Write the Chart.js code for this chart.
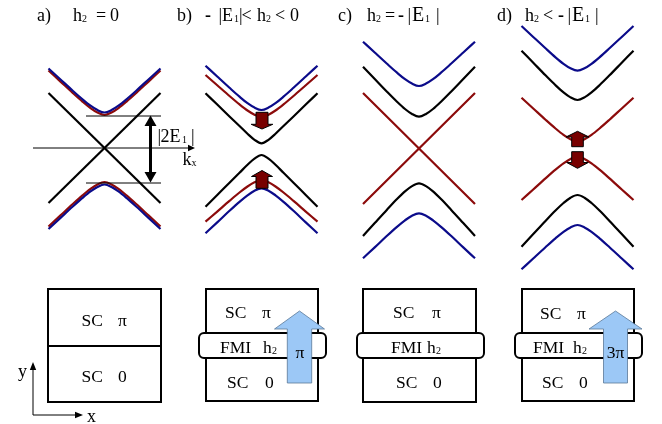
<!DOCTYPE html>
<html><head><meta charset="utf-8">
<script src="https://cdn.jsdelivr.net/npm/chart.js@4"></script>
<style>html,body{margin:0;padding:0;background:#fff;} canvas{display:block;}</style>
</head><body>
<canvas id="c" width="662" height="424"></canvas>
<script>
// ---------- data (energies, E = 0 at the kx axis) ----------
const kx = [-56,-44,-32,-22,-14,-7,0,7,14,22,32,44,56];
const kxEnds = [-56, 56];

// a) h2 = 0
const aBlueUp = [79.5,68.5,57.5,48.7,42.3,37.9,35.5,37.9,42.3,48.7,57.5,68.5,79.5];
const aRedUp  = [77.5,66.4,55.3,46.4,39.9,35.4,33.0,35.4,39.9,46.4,55.3,66.4,77.5];
const aRedDn  = [-78.5,-67.4,-56.3,-47.4,-40.9,-36.4,-34.0,-36.4,-40.9,-47.4,-56.3,-67.4,-78.5];
const aBlueDn = [-81.0,-69.9,-58.8,-49.9,-43.4,-38.9,-36.5,-38.9,-43.4,-49.9,-58.8,-69.9,-81.0];
const aBlackX1 = [55, -55];
const aBlackX2 = [-55, 55];
const aGapLevels = [32, -35];

// b) -|E1| < h2 < 0
const bBlueUp  = [82.3,71.2,60.2,51.3,44.8,40.4,38.0,40.4,44.8,51.3,60.2,71.2,82.3];
const bRedUp   = [73.0,62.5,52.0,43.6,37.5,33.3,31.0,33.3,37.5,43.6,52.0,62.5,73.0];
const bBlackUp = [54.7,43.2,31.5,22.0,14.2,8.2,4.7,8.2,14.2,22.0,31.5,43.2,54.7];
const bBlackDn = [-58.7,-46.8,-34.7,-24.8,-16.8,-10.6,-7.0,-10.6,-16.8,-24.8,-34.7,-46.8,-58.7];
const bRedDn   = [-73.7,-63.3,-52.9,-44.5,-38.5,-34.3,-32.0,-34.3,-38.5,-44.5,-52.9,-63.3,-73.7];
const bBlueDn  = [-85.3,-74.1,-62.8,-53.8,-47.3,-42.7,-40.3,-42.7,-47.3,-53.8,-62.8,-74.1,-85.3];

// c) h2 = -|E1|
const cBlueUp  = [106.3,95.2,84.2,75.3,68.8,64.4,62.0,64.4,68.8,75.3,84.2,95.2,106.3];
const cBlackUp = [81.3,68.8,56.3,46.3,39.0,34.0,31.3,34.0,39.0,46.3,56.3,68.8,81.3];
const cRedX1 = [55, -56];
const cRedX2 = [-56, 55];
const cBlackDn = [-88.0,-74.8,-61.7,-51.1,-43.4,-38.1,-35.3,-38.1,-43.4,-51.1,-61.7,-74.8,-88.0];
const cBlueDn  = [-110.3,-99.1,-87.8,-78.8,-72.3,-67.7,-65.3,-67.7,-72.3,-78.8,-87.8,-99.1,-110.3];

// d) h2 < -|E1|
const dBlueUp  = [122.0,110.8,99.7,90.7,84.2,79.7,77.3,79.7,84.2,90.7,99.7,110.8,122.0];
const dBlackUp = [97.3,85.0,72.7,62.8,55.6,50.6,48.0,50.6,55.6,62.8,72.7,85.0,97.3];
const dRedUp   = [50.3,39.3,28.3,19.5,13.1,8.7,6.3,8.7,13.1,19.5,28.3,39.3,50.3];
const dRedDn   = [-52.0,-41.2,-30.4,-21.7,-15.4,-11.0,-8.7,-11.0,-15.4,-21.7,-30.4,-41.2,-52.0];
const dBlackDn = [-98.7,-85.8,-72.9,-62.5,-55.0,-49.7,-47.0,-49.7,-55.0,-62.5,-72.9,-85.8,-98.7];
const dBlueDn  = [-121.3,-110.2,-99.2,-90.3,-83.8,-79.4,-77.0,-79.4,-83.8,-90.3,-99.2,-110.2,-121.3];

// phase labels in the junction arrows
const phaseLabels = ['π', '3π'];

// ---------- layout / style ----------
const TOP = 148;                       // layout y of E = 0
const centers = {a:104.5, b:261.5, c:419, d:577.5};
const BLUE = '#0b0b8a', RED = '#8c0b0b', BLACK = '#000';
const FONT = '"Liberation Serif","Times New Roman",serif';

const datasets = [];
function curve(cx, vals, color, ks) {
  ks = ks || kx;
  datasets.push({
    data: ks.map((k, i) => ({x: cx + k, y: vals[i]})),
    showLine: true, borderColor: color, borderWidth: 2.2, pointRadius: 0,
    cubicInterpolationMode: 'monotone', fill: false
  });
}
// a
curve(centers.a, aBlackX1, BLACK, kxEnds);
curve(centers.a, aBlackX2, BLACK, kxEnds);
curve(centers.a, aBlueUp, BLUE); curve(centers.a, aRedUp, RED);
curve(centers.a, aBlueDn, BLUE); curve(centers.a, aRedDn, RED);
// b
curve(centers.b, bBlueUp, BLUE); curve(centers.b, bRedUp, RED); curve(centers.b, bBlackUp, BLACK);
curve(centers.b, bBlackDn, BLACK); curve(centers.b, bRedDn, RED); curve(centers.b, bBlueDn, BLUE);
// c
curve(centers.c, cBlueUp, BLUE); curve(centers.c, cBlackUp, BLACK);
curve(centers.c, cRedX1, RED, kxEnds); curve(centers.c, cRedX2, RED, kxEnds);
curve(centers.c, cBlackDn, BLACK); curve(centers.c, cBlueDn, BLUE);
// d
curve(centers.d, dBlueUp, BLUE); curve(centers.d, dBlackUp, BLACK); curve(centers.d, dRedUp, RED);
curve(centers.d, dRedDn, RED); curve(centers.d, dBlackDn, BLACK); curve(centers.d, dBlueDn, BLUE);

const decor = {
  id: 'decor',
  afterDatasetsDraw(chart) {
    const ctx = chart.ctx, xs = chart.scales.x, ys = chart.scales.y;
    const X = v => xs.getPixelForValue(v);
    const Y = v => ys.getPixelForValue(TOP - v);
    ctx.save();
    ctx.lineJoin = 'miter';

    function txt(s, x, y, size, opt) {
      opt = opt || {};
      ctx.font = (opt.bold ? 'bold ' : '') + size + 'px ' + FONT;
      ctx.fillStyle = opt.color || '#000';
      ctx.textAlign = opt.align || 'left';
      ctx.textBaseline = 'alphabetic';
      ctx.fillText(s, X(x), Y(y));
    }
    function pieces(list, base, size) {
      list.forEach(p => {
        if (p[2] === 's') txt(p[0], p[1], base + 1, Math.round(size * 0.56));
        else if (p[2] === 'b') txt(p[0], p[1], base - 0.5, size, {bold: true});
        else if (typeof p[2] === 'number') txt(p[0], p[1], base, p[2]);
        else txt(p[0], p[1], base, size);
      });
    }
    function line(x1, y1, x2, y2, w) {
      ctx.beginPath(); ctx.moveTo(X(x1), Y(y1)); ctx.lineTo(X(x2), Y(y2));
      ctx.lineWidth = w; ctx.strokeStyle = '#000'; ctx.stroke();
    }
    function tri(x1, y1, x2, y2, x3, y3) {
      ctx.beginPath(); ctx.moveTo(X(x1), Y(y1)); ctx.lineTo(X(x2), Y(y2)); ctx.lineTo(X(x3), Y(y3));
      ctx.closePath(); ctx.fillStyle = '#000'; ctx.fill();
    }
    function blockArrow(cx, bh, hh, yBase, yHead, yTip, fill, stroke, lw) {
      ctx.beginPath();
      ctx.moveTo(X(cx - bh), Y(yBase));
      ctx.lineTo(X(cx - bh), Y(yHead));
      ctx.lineTo(X(cx - hh), Y(yHead));
      ctx.lineTo(X(cx), Y(yTip));
      ctx.lineTo(X(cx + hh), Y(yHead));
      ctx.lineTo(X(cx + bh), Y(yHead));
      ctx.lineTo(X(cx + bh), Y(yBase));
      ctx.closePath();
      ctx.fillStyle = fill; ctx.fill();
      ctx.lineWidth = lw; ctx.strokeStyle = stroke; ctx.stroke();
    }
    function rect(x1, y1, x2, y2) {
      ctx.lineWidth = 2; ctx.strokeStyle = '#000';
      ctx.strokeRect(X(x1), Y(y1), X(x2) - X(x1), Y(y2) - Y(y1));
    }
    function fmi(x1, y1, x2, y2) {
      const r = 5;
      ctx.beginPath();
      ctx.roundRect(X(x1), Y(y1), X(x2) - X(x1), Y(y2) - Y(y1), r);
      ctx.fillStyle = '#fff'; ctx.fill();
      ctx.lineWidth = 2; ctx.strokeStyle = '#000'; ctx.stroke();
    }

    // ---- titles ----
    const TS = 18, TB = 21;
    pieces([['a)',37],['h',73],['2',82,'s'],['=',96],['0',110]], TB, TS);
    pieces([['b)',177],['-',205,'b'],['|',218.5],['E',222],['1',234,'s'],['|',239],['<',241.5],
            ['h',257],['2',266,'s'],['<',275],['0',290]], TB, TS);
    pieces([['c)',338],['h',367],['2',376,'s'],['=',385],['-',398,'b'],['|',407.5],['E',412,20],['1',425,'s'],['|',436]], TB, TS);
    pieces([['d)',497],['h',525],['2',534,'s'],['<',543],['-',558,'b'],['|',567.5],['E',572,20],['1',585,'s'],['|',595]], TB, TS);

    // ---- panel a extras ----
    line(33, 148, 189, 148, 1);
    tri(195, 148, 188, 144.8, 188, 151.2);
    line(86, TOP - aGapLevels[0], 161, TOP - aGapLevels[0], 1);
    line(86, TOP - aGapLevels[1], 161, TOP - aGapLevels[1], 1);
    line(150.5, 124, 150.5, 174, 3);
    tri(150.5, 115.5, 144.5, 126, 156.5, 126);
    tri(150.5, 182.5, 144.5, 172, 156.5, 172);
    pieces([['|',157.5],['2',160.5],['E',169.5],['1',182,'s'],['|',191]], 142, 18);
    pieces([['k',182.5],['x',191.5,'s']], 165, 18);

    // ---- small dark-red arrows ----
    blockArrow(262, 6, 10.8, 112.3, 124.3, 129, '#780000', '#000', 1);
    blockArrow(262, 6, 10.5, 188.3, 176.5, 170.5, '#780000', '#000', 1);
    blockArrow(577.5, 5.8, 11.5, 146.7, 137, 131.3, '#780000', '#000', 1);
    blockArrow(577.5, 5.8, 10.8, 151.7, 162.5, 168.3, '#780000', '#000', 1);

    // ---- junction boxes ----
    const BS = 17.5;
    // a
    rect(48, 289, 161, 402);
    line(48, 346, 161, 346, 2);
    pieces([['SC',81.5],['π',118]], 325.5, BS);
    pieces([['SC',81.5],['0',118]], 381.5, BS);
    // xy axes
    line(33, 415, 33, 369, 1);
    tri(33, 362, 29.8, 370, 36.2, 370);
    line(33, 415, 76, 415, 1);
    tri(83, 415, 75, 411.8, 75, 418.2);
    txt('y', 18, 377, 18);
    txt('x', 87, 421.5, 18);
    // b
    rect(206, 289, 318, 401);
    fmi(199, 333, 326, 358);
    blockArrow(299.5, 12.2, 25, 383, 329, 311, '#9cc8f6', '#5a7898', 0.8);
    pieces([['SC',225],['π',262]], 318, BS);
    pieces([['FMI',220],['h',263],['2',272,'s']], 352.5, BS);
    pieces([['SC',227],['0',265]], 387.5, BS);
    txt(phaseLabels[0], 300, 358, BS, {align: 'center'});
    // c
    rect(363, 289, 476, 402);
    fmi(357, 333, 484, 358);
    pieces([['SC',393],['π',432]], 318, BS);
    pieces([['FMI',391],['h',427],['2',436,'s']], 352.5, BS);
    pieces([['SC',396],['0',433]], 387.5, BS);
    // d
    rect(522, 289, 634, 401);
    fmi(515, 333, 642, 358);
    blockArrow(615.5, 12, 26.5, 383, 329, 311, '#9cc8f6', '#5a7898', 0.8);
    pieces([['SC',540],['π',577]], 318.5, BS);
    pieces([['FMI',533],['h',573],['2',582,'s']], 352.5, BS);
    pieces([['SC',542],['0',579]], 388, BS);
    txt(phaseLabels[1], 615.5, 358, BS, {align: 'center'});

    ctx.restore();
  }
};

new Chart(document.getElementById('c'), {
  type: 'scatter',
  data: {datasets},
  options: {
    responsive: false, animation: false,
    layout: {padding: 0},
    plugins: {legend: {display: false}, tooltip: {enabled: false}},
    scales: {
      x: {type: 'linear', min: 0, max: 662, display: false},
      y: {type: 'linear', min: TOP - 424, max: TOP, display: false}
    },
    elements: {point: {radius: 0}}
  },
  plugins: [decor]
});
</script>
</body></html>
